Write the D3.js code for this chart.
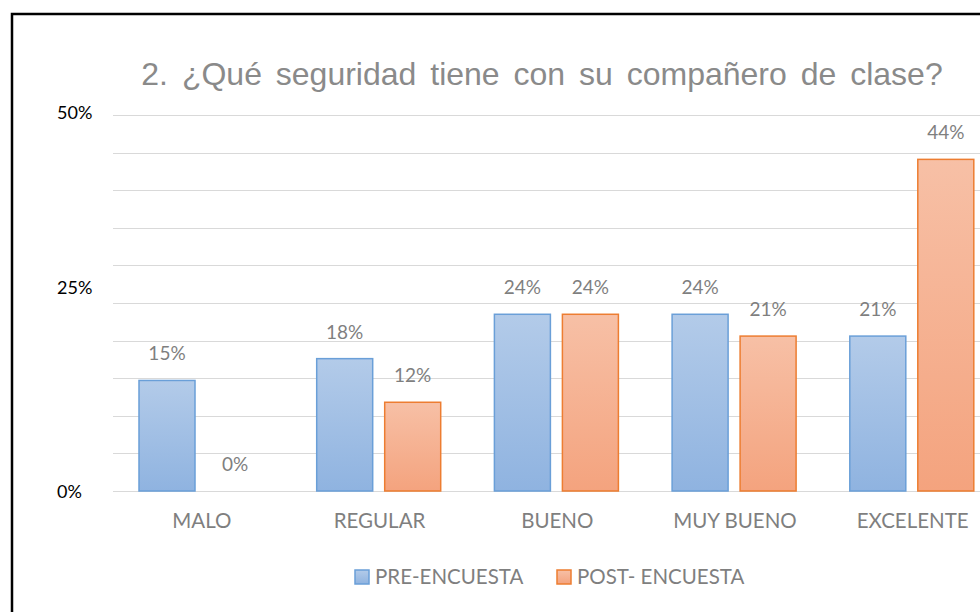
<!DOCTYPE html>
<html>
<head>
<meta charset="utf-8">
<script src="https://cdn.jsdelivr.net/npm/d3@7"></script>
<style>
  body { margin: 0; background: #fff; }
  svg { display: block; }
</style>
</head>
<body>
<div id="chart"></div>
<script>
var categories = ["MALO", "REGULAR", "BUENO", "MUY BUENO", "EXCELENTE"];
var series = ["PRE-ENCUESTA", "POST- ENCUESTA"];
var preValues = [0.147, 0.176, 0.235, 0.235, 0.206];
var postValues = [0, 0.118, 0.235, 0.206, 0.441];
var yTicks = [0, 0.25, 0.5];
var gridTicks = [0, 0.05, 0.1, 0.15, 0.2, 0.25, 0.3, 0.35, 0.4, 0.45, 0.5];
var title = "2. ¿Qué seguridad tiene con su compañero de clase?";

var width = 980;
var height = 612;
var labelFont = "Lato, 'Open Sans', sans-serif";

var svg = d3.select("#chart")
  .append("svg")
  .attr("width", width)
  .attr("height", height);

var defs = svg.append("defs");
function gradient(id, top, bottom) {
  var g = defs.append("linearGradient")
    .attr("id", id)
    .attr("x1", 0).attr("y1", 0)
    .attr("x2", 0).attr("y2", 1);
  g.append("stop").attr("offset", "0%").attr("stop-color", top);
  g.append("stop").attr("offset", "100%").attr("stop-color", bottom);
}
gradient("gPre", "#b3cbe9", "#8fb3e0");
gradient("gPost", "#f7c0a6", "#f4a37e");

var fills = { "PRE-ENCUESTA": "url(#gPre)", "POST- ENCUESTA": "url(#gPost)" };
var strokes = { "PRE-ENCUESTA": "#6a9fd8", "POST- ENCUESTA": "#ed7d31" };

// frame
svg.append("rect")
  .attr("x", 12)
  .attr("y", 14)
  .attr("width", 1000)
  .attr("height", 700)
  .attr("fill", "#fff")
  .attr("stroke", "#000")
  .attr("stroke-width", 2.5);

var y = d3.scaleLinear()
  .domain([0, 0.5])
  .range([491, 115]);

var x0 = d3.scaleBand()
  .domain(categories)
  .range([113, 113 + 5 * 177.7]);

var x1 = d3.scaleBand()
  .domain(series)
  .range([26, 150])
  .paddingInner(12 / 68);

// gridlines
svg.append("g")
  .selectAll("line")
  .data(gridTicks)
  .enter()
  .append("line")
  .attr("x1", 113)
  .attr("x2", width)
  .attr("y1", function (d) { return Math.round(y(d)) + 0.5; })
  .attr("y2", function (d) { return Math.round(y(d)) + 0.5; })
  .attr("stroke", "#d9d9d9")
  .attr("stroke-width", 1.2);

// y tick labels (the 25% one sits a bit high in the original)
var tickShift = { 0: 1, 0.25: -15, 0.5: -2 };
svg.append("g")
  .selectAll("text")
  .data(yTicks)
  .enter()
  .append("text")
  .attr("x", 57)
  .attr("y", function (d) { return y(d) + tickShift[d]; })
  .attr("dy", "0.35em")
  .attr("font-family", labelFont)
  .attr("font-size", 18)
  .attr("fill", "#000")
  .text(d3.format(".0%"));

// title
svg.append("text")
  .attr("x", 542)
  .attr("y", 85)
  .attr("text-anchor", "middle")
  .attr("font-family", "'Liberation Sans', Arial, sans-serif")
  .attr("font-size", 32)
  .attr("word-spacing", 5)
  .attr("fill", "#8a8a8a")
  .text(title);

var rows = categories.map(function (c, i) {
  return { cat: c, values: [
    { key: series[0], value: preValues[i] },
    { key: series[1], value: postValues[i] }
  ] };
});

var groups = svg.append("g")
  .selectAll("g")
  .data(rows)
  .enter()
  .append("g")
  .attr("transform", function (d) { return "translate(" + x0(d.cat) + ",0)"; });

groups.selectAll("rect")
  .data(function (d) { return d.values.filter(function (v) { return v.value > 0; }); })
  .enter()
  .append("rect")
  .attr("x", function (d) { return x1(d.key); })
  .attr("y", function (d) { return y(d.value); })
  .attr("width", x1.bandwidth())
  .attr("height", function (d) { return y(0) - y(d.value); })
  .attr("fill", function (d) { return fills[d.key]; })
  .attr("stroke", function (d) { return strokes[d.key]; })
  .attr("stroke-width", 1.5);

groups.selectAll("text")
  .data(function (d) { return d.values; })
  .enter()
  .append("text")
  .attr("x", function (d) { return x1(d.key) + x1.bandwidth() / 2; })
  .attr("y", function (d) { return y(d.value) - 20; })
  .attr("text-anchor", "middle")
  .attr("font-family", labelFont)
  .attr("font-size", 19)
  .attr("fill", "#7f7f7f")
  .text(function (d) { return d3.format(".0%")(d.value); });

// category labels
svg.append("g")
  .selectAll("text")
  .data(categories)
  .enter()
  .append("text")
  .attr("x", function (d) { return x0(d) + x0.bandwidth() / 2; })
  .attr("y", 528)
  .attr("text-anchor", "middle")
  .attr("font-family", labelFont)
  .attr("font-size", 20.5)
  .attr("fill", "#7f7f7f")
  .text(function (d) { return d; });

// legend
var legendX = [355, 557];
var legend = svg.append("g")
  .selectAll("g")
  .data(series)
  .enter()
  .append("g")
  .attr("transform", function (d, i) { return "translate(" + legendX[i] + ",570)"; });

legend.append("rect")
  .attr("width", 14)
  .attr("height", 14)
  .attr("fill", function (d) { return fills[d]; })
  .attr("stroke", function (d) { return strokes[d]; })
  .attr("stroke-width", 1.5);

legend.append("text")
  .attr("x", 20)
  .attr("y", 14)
  .attr("font-family", labelFont)
  .attr("font-size", 20.5)
  .attr("fill", "#7f7f7f")
  .text(function (d) { return d; });
</script>
</body>
</html>
